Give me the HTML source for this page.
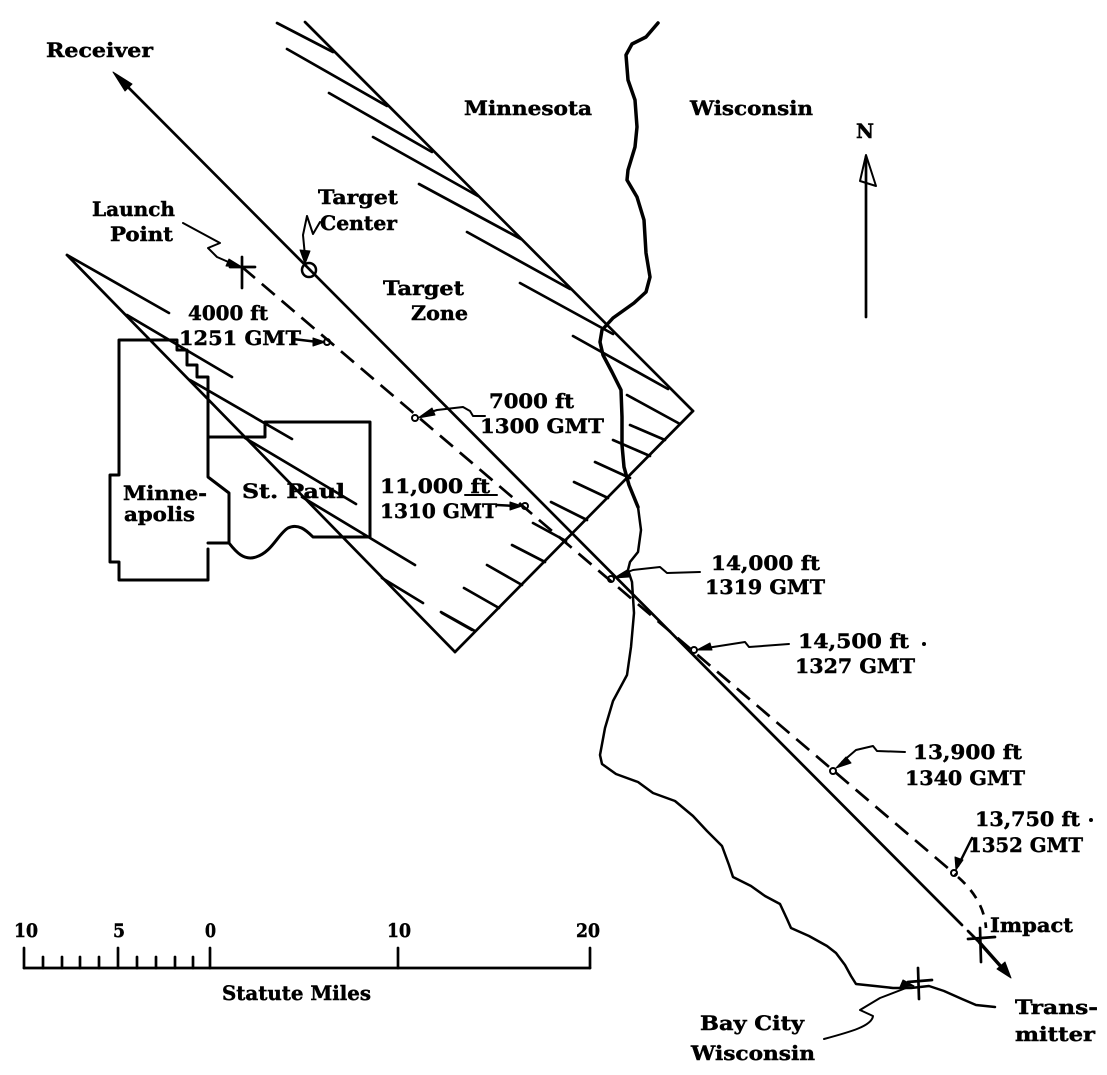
<!DOCTYPE html>
<html><head><meta charset="utf-8"><style>
html,body{margin:0;padding:0;background:#fff;}
svg{display:block;}
text{font-family:"DejaVu Serif","Liberation Serif",serif;font-weight:bold;fill:#000;stroke:#000;stroke-width:0.45;}
</style></head><body>
<svg width="1107" height="1075" viewBox="0 0 1107 1075" xmlns="http://www.w3.org/2000/svg">
<g fill="none" stroke="#000" stroke-width="2.7" stroke-linecap="round" stroke-linejoin="round">
<!-- Target zone outline -->
<line x1="305" y1="22" x2="693" y2="411"/>
<line x1="693" y1="411" x2="455" y2="652"/>
<line x1="67" y1="255" x2="455" y2="652"/>
<!-- top-right hatch -->
<line x1="277" y1="23" x2="333" y2="52"/>
<line x1="287" y1="49" x2="387" y2="106"/>
<line x1="329" y1="93" x2="432" y2="152"/>
<line x1="373" y1="137" x2="478" y2="196"/>
<line x1="419" y1="184" x2="521" y2="239"/>
<line x1="467" y1="232" x2="570" y2="289"/>
<line x1="520" y1="283" x2="613" y2="334"/>
<line x1="573" y1="336" x2="668" y2="389"/>
<!-- bottom-right hatch -->
<line x1="627" y1="395" x2="680" y2="424"/>
<line x1="630" y1="425" x2="665" y2="440"/>
<line x1="613" y1="440" x2="650" y2="456"/>
<line x1="595" y1="462" x2="630" y2="478"/>
<line x1="574" y1="482" x2="608" y2="498"/>
<line x1="551" y1="502" x2="587" y2="520"/>
<line x1="533" y1="523" x2="566" y2="541"/>
<line x1="512" y1="545" x2="545" y2="562"/>
<line x1="487" y1="565" x2="522" y2="585"/>
<line x1="464" y1="588" x2="499" y2="608"/>
<line x1="441" y1="612" x2="475" y2="631"/>
<!-- left hatch -->
<line x1="67" y1="255" x2="169" y2="313"/>
<line x1="127" y1="315" x2="232" y2="377"/>
<line x1="190" y1="380" x2="292" y2="439"/>
<line x1="245" y1="438" x2="356" y2="504"/>
<line x1="302" y1="497" x2="415" y2="565"/>
<line x1="382" y1="578" x2="423" y2="603"/>
<line x1="442" y1="613" x2="472" y2="630"/>
<!-- Minneapolis -->
<path stroke-width="3" d="M119,580 L119,562 L110,562 L110,475 L119,475 L119,340 L177,340 L177,350 L187,350 L187,365 L197,365 L197,377 L208,377 L208,477 L229,493 L229,543 L208,543 M208,549 L208,580 L119,580"/>
<!-- St Paul -->
<path stroke-width="3" d="M208,437 L265,437 L265,422 L370,422 L370,537 L313,537 C306,530 298,523 288,528 C278,534 272,552 256,557 C244,561 236,552 229,543"/>
<!-- River upper (thick) -->
<polyline stroke-width="3.5" points="658,23 646,37 632,44 626,55 628,80 635,100 637,127 635,147 628,170 627,180 637,197 644,220 646,253 650,277 646,292 634,303 613,318 602,330 600,342 603,355 612,372 621,390 622,417 622,445 624,467 629,485 638,507"/>
<!-- River lower -->
<polyline stroke-width="2.5" points="638,507 641,530 638,552 630,562 628,570 632,582 634,613 631,647 627,675 613,701 605,728 600,755 602,764 616,774 638,782 653,793 675,801 693,816 707,831 722,846 729,865 733,877 751,886 765,896 780,904 787,919 791,928 809,936 827,946 836,953 845,965 851,976 856,984 875,986 893,988 911,988 929,986 944,991 962,999 976,1005 995,1007"/>
<!-- Receiver - Transmitter solid line -->
<line x1="122" y1="81" x2="962" y2="925"/>
<line x1="968" y1="931" x2="982" y2="945"/>
<line x1="980" y1="943" x2="1004" y2="970" stroke-width="3.5"/>
<!-- dashed trajectory -->
<path d="M242,267 L956,875" stroke-dasharray="17 9" stroke-linecap="butt"/>
<path d="M958,877 Q984,900 986,928" stroke-dasharray="10 8" stroke-linecap="butt"/>
<!-- Launch cross -->
<line x1="230" y1="267" x2="255" y2="267"/>
<line x1="242" y1="257" x2="242" y2="288"/>
<!-- Target center circle -->
<circle cx="309" cy="270" r="7" stroke-width="2.5"/>
<!-- Impact cross -->
<line x1="968" y1="939" x2="995" y2="937"/>
<line x1="980" y1="928" x2="981" y2="962"/>
<!-- Bay City cross -->
<line x1="908" y1="982" x2="932" y2="980"/>
<line x1="918" y1="968" x2="919" y2="999"/>
<!-- markers -->
<circle cx="327" cy="342" r="3" stroke-width="2"/>
<circle cx="415" cy="418" r="3" stroke-width="2"/>
<circle cx="525" cy="506" r="3" stroke-width="2"/>
<circle cx="611" cy="579" r="3" stroke-width="2"/>
<circle cx="694" cy="650" r="3" stroke-width="2"/>
<circle cx="833" cy="771" r="3" stroke-width="2"/>
<circle cx="954" cy="873" r="3" stroke-width="2"/>
<!-- leaders -->
<path stroke-width="2" d="M183,223 L220,243 L208,248 L217,257 L233,264"/>
<path stroke-width="2" d="M320,222 L313,234 L307,216 L303,235 L305,256"/>
<path stroke-width="2.5" d="M293,339 L318,342"/>
<path stroke-width="2" d="M485,416 L473,416 L470,411 L463,407 L437,410 L425,414"/>
<path stroke-width="2.5" d="M497,505 L516,506"/>
<path stroke-width="2" d="M700,572 L667,573 L660,567 L633,570 L620,575"/>
<path stroke-width="2" d="M789,644 L749,647 L745,642 L713,647 L702,649"/>
<path stroke-width="2" d="M905,752 L877,751 L873,746 L856,750 L842,762"/>
<path stroke-width="2.5" d="M972,838 L958,866"/>
<path stroke-width="2" d="M824,1039 C850,1032 872,1026 873,1016 L860,1010 L880,998 L906,988"/>
<!-- underline ft -->
<line x1="465" y1="495" x2="497" y2="495" stroke-width="2"/>
<!-- N arrow -->
<line x1="866" y1="157" x2="866" y2="317"/>
<polygon points="866,155 876,186 860,181" stroke-width="2"/>
<!-- Scale bar -->
<line x1="24" y1="968" x2="590" y2="968"/>
<line x1="24" y1="948" x2="24" y2="968"/>
<line x1="118" y1="948" x2="118" y2="968"/>
<line x1="210" y1="948" x2="210" y2="968"/>
<line x1="398" y1="948" x2="398" y2="968"/>
<line x1="590" y1="948" x2="590" y2="968"/>
<line x1="43" y1="957" x2="43" y2="968"/>
<line x1="62" y1="957" x2="62" y2="968"/>
<line x1="80" y1="957" x2="80" y2="968"/>
<line x1="99" y1="957" x2="99" y2="968"/>
<line x1="137" y1="957" x2="137" y2="968"/>
<line x1="156" y1="957" x2="156" y2="968"/>
<line x1="175" y1="957" x2="175" y2="968"/>
<line x1="193" y1="957" x2="193" y2="968"/>
</g>
<!-- filled arrowheads -->
<g fill="#000" stroke="#000" stroke-width="1" stroke-linejoin="round">
<polygon points="113,72 125,91 132,84"/>
<polygon points="1011,978 997,969 1005,962"/>
<polygon points="242,267 229,259 226,266"/>
<polygon points="305,264 300,250 310,251"/>
<polygon points="325,342 313,338 313,346"/>
<polygon points="418,418 432,408 435,415"/>
<polygon points="522,506 510,502 510,510"/>
<polygon points="614,578 627,570 629,577"/>
<polygon points="697,650 710,643 712,650"/>
<polygon points="836,768 846,757 851,763"/>
<polygon points="956,870 955,857 963,860"/>
<polygon points="914,986 900,987 903,980"/>
<circle cx="924" cy="644" r="1.5"/>
<circle cx="1091" cy="820" r="1.5"/>
</g>
<!-- labels -->
<g font-size="20">
<text x="46" y="57" textLength="107" lengthAdjust="spacingAndGlyphs">Receiver</text>
<text x="464" y="115" textLength="128" lengthAdjust="spacingAndGlyphs">Minnesota</text>
<text x="690" y="115" textLength="123" lengthAdjust="spacingAndGlyphs">Wisconsin</text>
<text x="856" y="138" textLength="18" lengthAdjust="spacingAndGlyphs">N</text>
<text x="92" y="216" textLength="83" lengthAdjust="spacingAndGlyphs">Launch</text>
<text x="110" y="241" textLength="63" lengthAdjust="spacingAndGlyphs">Point</text>
<text x="318" y="204" textLength="80" lengthAdjust="spacingAndGlyphs">Target</text>
<text x="320" y="230" textLength="77" lengthAdjust="spacingAndGlyphs">Center</text>
<text x="383" y="295" textLength="81" lengthAdjust="spacingAndGlyphs">Target</text>
<text x="411" y="320" textLength="57" lengthAdjust="spacingAndGlyphs">Zone</text>
<text x="188" y="320" textLength="80" lengthAdjust="spacingAndGlyphs">4000 ft</text>
<text x="179" y="345" textLength="122" lengthAdjust="spacingAndGlyphs">1251 GMT</text>
<text x="489" y="408" textLength="85" lengthAdjust="spacingAndGlyphs">7000 ft</text>
<text x="480" y="433" textLength="124" lengthAdjust="spacingAndGlyphs">1300 GMT</text>
<text x="380" y="493" textLength="110" lengthAdjust="spacingAndGlyphs">11,000 ft</text>
<text x="380" y="518" textLength="117" lengthAdjust="spacingAndGlyphs">1310 GMT</text>
<text x="123" y="500" textLength="84" lengthAdjust="spacingAndGlyphs">Minne-</text>
<text x="124" y="521" textLength="71" lengthAdjust="spacingAndGlyphs">apolis</text>
<text x="242" y="498" textLength="103" lengthAdjust="spacingAndGlyphs">St. Paul</text>
<text x="711" y="570" textLength="109" lengthAdjust="spacingAndGlyphs">14,000 ft</text>
<text x="705" y="594" textLength="120" lengthAdjust="spacingAndGlyphs">1319 GMT</text>
<text x="798" y="648" textLength="111" lengthAdjust="spacingAndGlyphs">14,500 ft</text>
<text x="795" y="673" textLength="120" lengthAdjust="spacingAndGlyphs">1327 GMT</text>
<text x="913" y="759" textLength="109" lengthAdjust="spacingAndGlyphs">13,900 ft</text>
<text x="905" y="785" textLength="120" lengthAdjust="spacingAndGlyphs">1340 GMT</text>
<text x="975" y="826" textLength="105" lengthAdjust="spacingAndGlyphs">13,750 ft</text>
<text x="968" y="852" textLength="115" lengthAdjust="spacingAndGlyphs">1352 GMT</text>
<text x="990" y="932" textLength="83" lengthAdjust="spacingAndGlyphs">Impact</text>
<text x="1015" y="1014" textLength="83" lengthAdjust="spacingAndGlyphs">Trans-</text>
<text x="1015" y="1041" textLength="80" lengthAdjust="spacingAndGlyphs">mitter</text>
<text x="700" y="1030" textLength="104" lengthAdjust="spacingAndGlyphs">Bay City</text>
<text x="691" y="1060" textLength="124" lengthAdjust="spacingAndGlyphs">Wisconsin</text>
<text x="222" y="1000" textLength="149" lengthAdjust="spacingAndGlyphs">Statute Miles</text>
</g>
<g font-size="19">
<text x="14" y="937" textLength="24" lengthAdjust="spacingAndGlyphs">10</text>
<text x="113" y="937" textLength="12" lengthAdjust="spacingAndGlyphs">5</text>
<text x="205" y="937" textLength="11" lengthAdjust="spacingAndGlyphs">0</text>
<text x="387" y="937" textLength="24" lengthAdjust="spacingAndGlyphs">10</text>
<text x="576" y="937" textLength="24" lengthAdjust="spacingAndGlyphs">20</text>
</g>
</svg>
</body></html>
